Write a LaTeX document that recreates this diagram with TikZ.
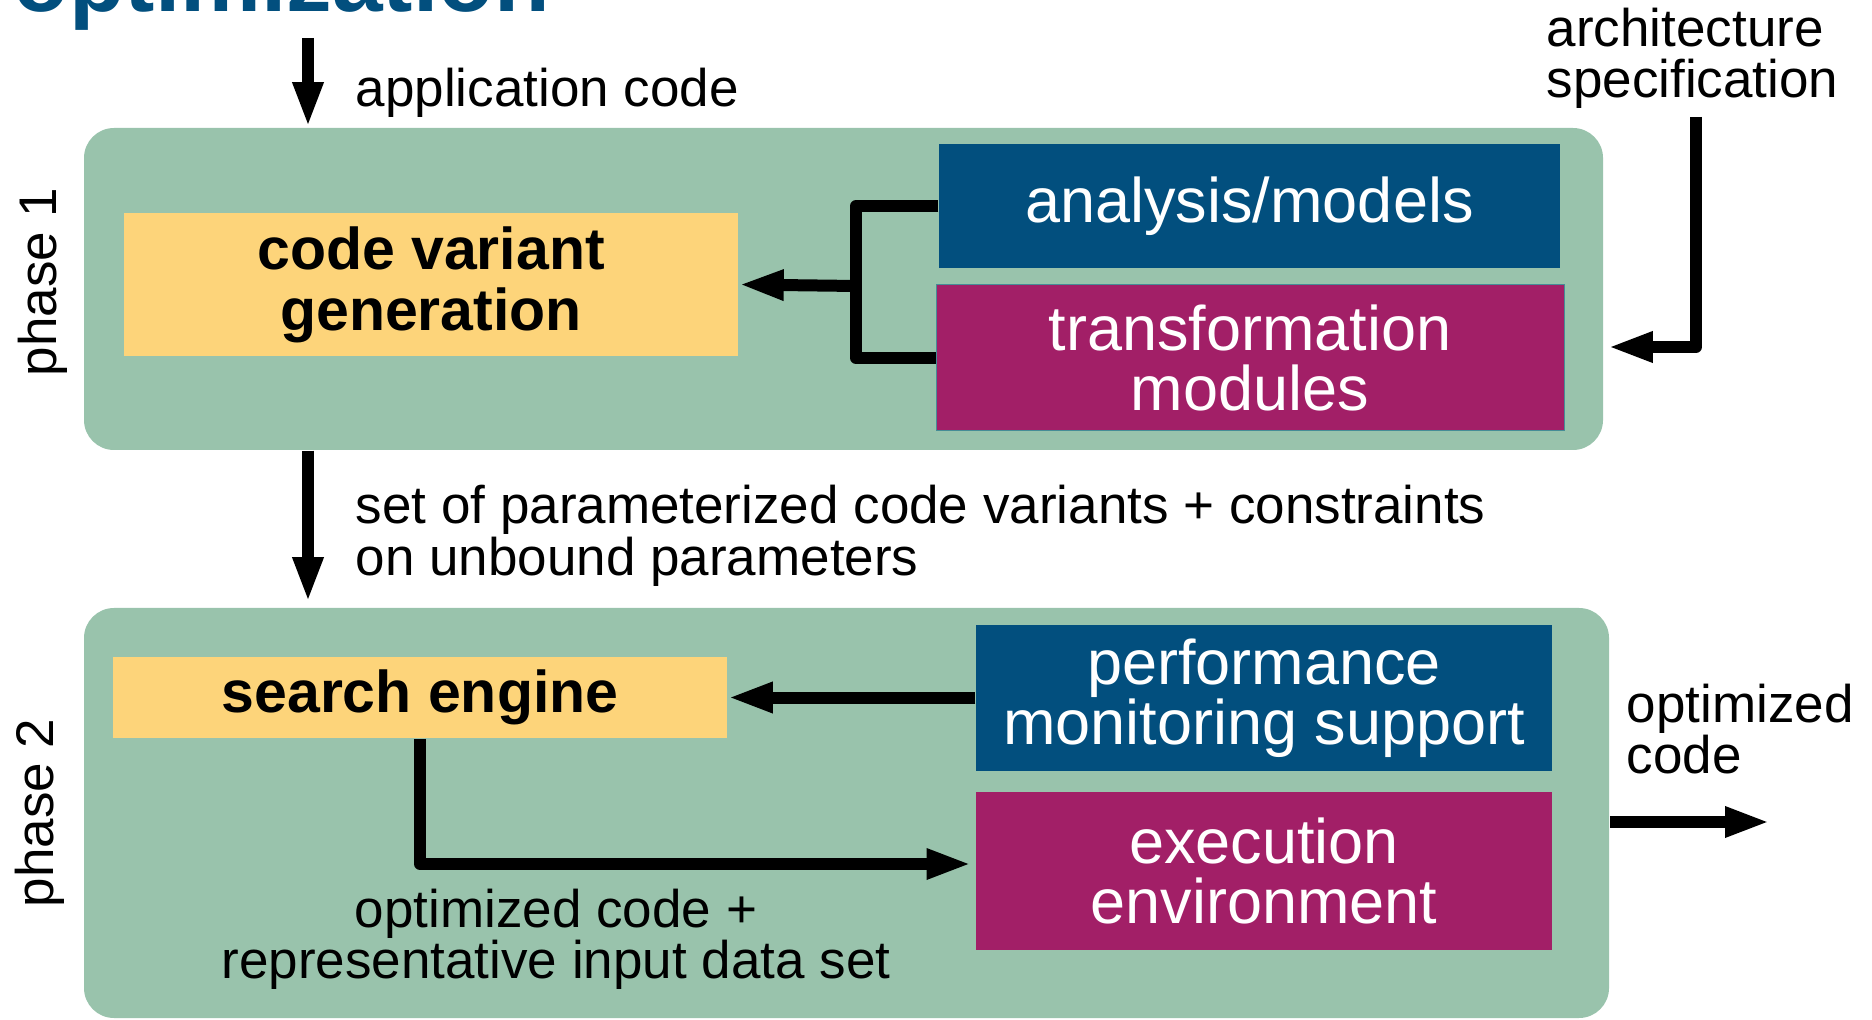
\documentclass[tikz,border=0pt]{standalone}
\usepackage{fontspec}
\setmainfont{Liberation Sans}
\usetikzlibrary{arrows.meta}

\definecolor{phasegreen}{RGB}{153,195,172}
\definecolor{genyellow}{RGB}{253,212,122}
\definecolor{modblue}{RGB}{2,79,126}
\definecolor{modmagenta}{RGB}{162,31,103}
\definecolor{modedge}{RGB}{70,140,150}

\newcommand{\lblfont}{\fontsize{26.5}{25.5}\selectfont}
\newcommand{\modfont}{\fontsize{31.5}{30}\selectfont}
\newcommand{\genfont}{\fontsize{29.5}{30.5}\selectfont\bfseries}
\newcommand{\headfont}{\fontsize{45.5}{50}\selectfont\bfseries}

\tikzset{every picture/.style={line width=0.75pt}}
\tikzset{
  phasebox/.style={fill=phasegreen, rounded corners=15pt, inner sep=0pt},
  genbox/.style={fill=genyellow, inner sep=0pt, align=center, font=\genfont},
  bluebox/.style={fill=modblue, text=white, inner sep=0pt, align=center, font=\modfont},
  redbox/.style={fill=modmagenta, draw=modedge, line width=0.5pt, text=white, inner sep=0pt, align=center, font=\modfont},
  lbl/.style={anchor=base west, inner sep=0pt, align=left, font=\lblfont},
  arr/.style={line width=6pt, -{Triangle[length=22.5pt,width=14pt]}},
  lnk/.style={line width=6pt, line join=round}
}

\begin{document}
\begin{tikzpicture}[x=0.5pt,y=0.5pt,yscale=-1,xscale=1]
    \useasboundingbox (0,0) rectangle (1872,1020);
    \clip (0,0) rectangle (1872,1020);

    % Text Node
    \node [anchor=base west, inner sep=0pt, text=modblue, font=\headfont] (head) at (13,12) {optimization};

    %Shape: phase boxes
    \node [phasebox, minimum width=759.5pt, minimum height=161pt] (p1) at (843.5,289) {};
    \node [phasebox, minimum width=762.5pt, minimum height=205pt] (p2) at (846.5,813) {};

    % phase 1
    \node [genbox, minimum width=307pt, minimum height=71.5pt] (cv) at (431,284.5) {code variant\\generation};
    \node [bluebox, minimum width=310.5pt, minimum height=62pt] (am) at (1249.5,206) {analysis/models};
    \node [redbox, minimum width=314pt, minimum height=73pt] (tm) at (1250,358) {transformation\\modules};

    % phase 2
    \node [genbox, minimum width=307pt, minimum height=40.5pt] (se) at (420,697.5) {search engine};
    \node [bluebox, minimum width=288pt, minimum height=73pt] (pm) at (1264,698) {performance\\monitoring support};
    \node [redbox, draw=none, minimum width=288pt, minimum height=79pt] (ee) at (1264,871) {execution\\environment};

    % Text Node
    \node [lbl, rotate=90, anchor=center] (ph1) at (43,282) {phase 1};
    \node [lbl, rotate=90, anchor=center] (ph2) at (40,813) {phase 2};
    \node [lbl] (applbl) at (355,107) {application code};
    \node [lbl] (setlbl) at (355,575) {set of parameterized code variants + constraints\\on unbound parameters};
    \node [lbl] (archlbl) at (1546,98) {architecture\\specification};
    \node [lbl] (outlbl) at (1626,773) {optimized\\code};
    \node [lbl, anchor=base, align=center] (runlbl) at (556,978) {optimized code +\\representative input data set};

    % free ends
    \coordinate (appin) at (308,38);
    \coordinate (archin) at (1696,117);
    \coordinate (archturn) at (1696,347);
    \coordinate (brk) at (856,286);
    \coordinate (outend) at (1770,822);

    %Straight Lines
    \draw [arr] (appin) -- (appin |- p1.north);
    \draw [arr, shorten >=2.5pt] (p1.south -| appin) -- (p2.north -| appin);
    \draw [arr, line join=round, shorten >=2pt] (archin) -- (archturn) -- (archturn -| p1.east);
    \draw [lnk] (am.west) -| (brk) |- (tm.west);
    \draw [arr] (brk) -- (cv.east);
    \draw [arr] (se.east -| pm.west) -- (se.east);
    \draw [arr, line join=round, shorten >=2pt] (se.south) |- ([yshift=-3.5pt]ee.west);
    \draw [arr] (p2.east |- outend) -- (outend);

\end{tikzpicture}
\end{document}
